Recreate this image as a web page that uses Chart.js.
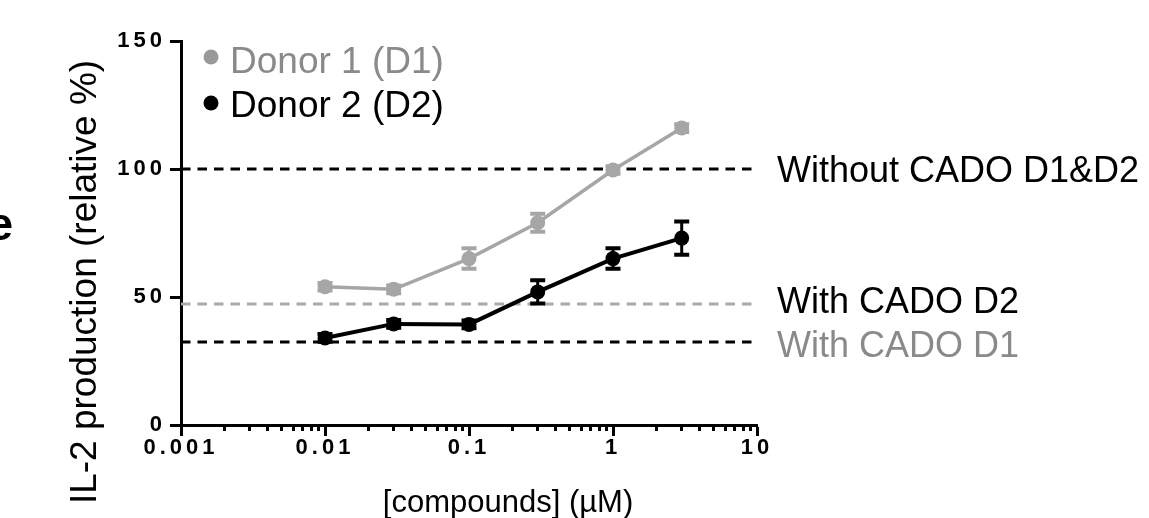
<!DOCTYPE html>
<html>
<head>
<meta charset="utf-8">
<script src="https://cdn.jsdelivr.net/npm/chart.js@4.4.1/dist/chart.umd.min.js"></script>
<style>
html, body { margin: 0; padding: 0; background: #fff; }
#wrap { width: 1149px; height: 518px; }
</style>
</head>
<body>
<div id="wrap"><canvas id="grafico" width="1149" height="518"></canvas></div>
<script>
// concentrações (µM) e respostas relativas (%)
var doses = [0.01, 0.03, 0.1, 0.3, 1, 3];
var donor1 = [54, 53, 65, 79, 99.6, 116];
var donor1Err = [1.5, 1.5, 4, 3.5, 1.5, 1.5];
var donor2 = [34, 39.5, 39.3, 52, 65, 73];
var donor2Err = [1.5, 1.5, 1.5, 4.5, 4, 6.5];

// linhas de referência
var semCado = 100;
var comCadoD2 = 47.3;
var comCadoD1 = 32.4;

var xTicks = [0.001, 0.01, 0.1, 1, 10];
var xTickLabels = ['0.001', '0.01', '0.1', '1', '10'];
var yTicks = [0, 50, 100, 150];

var FONTE = 'Arial, "Liberation Sans", sans-serif';
var CINZA = '#a6a6a6';
var CINZA_TXT = '#8a8a8a';

function pontos(ys) {
    var out = [];
    for (var i = 0; i < doses.length; i++) out.push({ x: doses[i], y: ys[i] });
    return out;
}

function linhaH(v) {
    return [{ x: xTicks[0], y: v }, { x: xTicks[xTicks.length - 1], y: v }];
}

function ehDecada(v) {
    for (var i = 0; i < xTicks.length; i++) {
        if (Math.abs(v / xTicks[i] - 1) < 1e-6) return i;
    }
    return -1;
}

// ticks menores 2..9 de cada década
var todosTicks = [];
for (var d = 0; d < xTicks.length; d++) {
    todosTicks.push(xTicks[d]);
    if (d < xTicks.length - 1) {
        for (var m = 2; m <= 9; m++) todosTicks.push(xTicks[d] * m);
    }
}

var barrasErro = {
    id: 'barrasErro',
    afterDatasetsDraw: function(chart) {
        var ctx = chart.ctx, xs = chart.scales.x, ys = chart.scales.y;
        chart.data.datasets.forEach(function(ds) {
            if (!ds.erro) return;
            ctx.save();
            ctx.strokeStyle = ds.borderColor;
            ds.data.forEach(function(p, i) {
                var e = ds.erro[i];
                var px = xs.getPixelForValue(p.x);
                var y1 = ys.getPixelForValue(p.y + e);
                var y2 = ys.getPixelForValue(p.y - e);
                ctx.lineWidth = 3;
                ctx.beginPath(); ctx.moveTo(px, y1); ctx.lineTo(px, y2); ctx.stroke();
                ctx.lineWidth = 4;
                ctx.beginPath();
                ctx.moveTo(px - 7.5, y1); ctx.lineTo(px + 7.5, y1);
                ctx.moveTo(px - 7.5, y2); ctx.lineTo(px + 7.5, y2);
                ctx.stroke();
            });
            ctx.restore();
        });
    }
};

// espaçamento das letras só para os rótulos dos eixos
var espacamento = {
    id: 'espacamento',
    beforeDraw: function(chart) { chart.ctx.letterSpacing = '4px'; },
    beforeDatasetsDraw: function(chart) { chart.ctx.letterSpacing = '0px'; }
};

var textos = {
    id: 'textos',
    afterDraw: function(chart) {
        var ctx = chart.ctx, ys = chart.scales.y;
        var dsets = chart.data.datasets;
        ctx.save();
        ctx.letterSpacing = '0px';
        ctx.textBaseline = 'alphabetic';
        ctx.textAlign = 'left';

        // legenda
        ctx.font = '37px ' + FONTE;
        var legY = [73, 117];
        var marcaY = [57, 103];
        for (var i = 0; i < 2; i++) {
            ctx.fillStyle = i === 0 ? '#999999' : '#000';
            ctx.beginPath();
            ctx.arc(211, marcaY[i], 7.5, 0, Math.PI * 2);
            ctx.fill();
            ctx.fillStyle = i === 0 ? CINZA_TXT : '#000';
            ctx.fillText(dsets[i].label, 230, legY[i]);
        }

        // rótulos das linhas tracejadas
        ctx.font = '36px ' + FONTE;
        ctx.fillStyle = '#000';
        ctx.fillText('Without CADO D1&D2', 777, ys.getPixelForValue(semCado) + 13);
        ctx.fillText('With CADO D2', 777, ys.getPixelForValue(comCadoD2) + 9);
        ctx.fillStyle = CINZA_TXT;
        ctx.fillText('With CADO D1', 777, ys.getPixelForValue(comCadoD1) + 15);

        // título x
        ctx.fillStyle = '#000';
        ctx.textAlign = 'center';
        ctx.font = '31px ' + FONTE;
        ctx.fillText('[compounds] (µM)', 508, 512);

        // título y
        ctx.font = '37px ' + FONTE;
        ctx.save();
        ctx.translate(96, 282);
        ctx.rotate(-Math.PI / 2);
        ctx.fillText('IL-2 production (relative %)', 0, 0);
        ctx.restore();

        // letra do painel vizinho, cortada
        ctx.textAlign = 'right';
        ctx.font = 'bold 46px ' + FONTE;
        ctx.fillText('e', 13, 240);
        ctx.restore();
    }
};

new Chart(document.getElementById('grafico'), {
    type: 'line',
    data: {
        datasets: [
            {
                label: 'Donor 1 (D1)', data: pontos(donor1), erro: donor1Err,
                borderColor: CINZA, backgroundColor: CINZA,
                borderWidth: 3.5, pointRadius: 7.5, pointHoverRadius: 7.5, pointBorderWidth: 0
            },
            {
                label: 'Donor 2 (D2)', data: pontos(donor2), erro: donor2Err,
                borderColor: '#000', backgroundColor: '#000',
                borderWidth: 4, pointRadius: 7.5, pointHoverRadius: 7.5, pointBorderWidth: 0
            },
            {
                label: 'Without CADO', data: linhaH(semCado),
                borderColor: '#000', borderWidth: 3, borderDash: [9.5, 7], pointRadius: 0
            },
            {
                label: 'With CADO D2', data: linhaH(comCadoD2),
                borderColor: '#aaaaaa', borderWidth: 3, borderDash: [9.5, 7], pointRadius: 0
            },
            {
                label: 'With CADO D1', data: linhaH(comCadoD1),
                borderColor: '#000', borderWidth: 3, borderDash: [9.5, 7], pointRadius: 0
            }
        ]
    },
    options: {
        responsive: false,
        animation: false,
        devicePixelRatio: 1,
        layout: { padding: { top: 41, right: 392, bottom: 0, left: 0 } },
        plugins: { legend: { display: false }, tooltip: { enabled: false } },
        scales: {
            x: {
                type: 'logarithmic',
                min: xTicks[0],
                max: xTicks[xTicks.length - 1],
                afterBuildTicks: function(s) {
                    s.ticks = todosTicks.map(function(v) { return { value: v, major: ehDecada(v) >= 0 }; });
                },
                afterFit: function(s) { s.height = 93; },
                border: { color: '#000', width: 3 },
                grid: {
                    drawOnChartArea: false,
                    drawTicks: true,
                    tickLength: 11,
                    tickWidth: 3,
                    tickColor: '#000',
                    tickBorderDash: function(c) {
                        if (!c.tick) return [];
                        return ehDecada(c.tick.value) >= 0 ? [] : [4, 50];
                    }
                },
                ticks: {
                    autoSkip: false,
                    maxRotation: 0,
                    padding: -1,
                    color: '#000',
                    font: { family: FONTE, size: 22, weight: 'bold' },
                    callback: function(v) {
                        var k = ehDecada(v);
                        return k >= 0 ? xTickLabels[k] : '';
                    }
                }
            },
            y: {
                min: yTicks[0],
                max: yTicks[yTicks.length - 1],
                afterBuildTicks: function(s) {
                    s.ticks = yTicks.map(function(v) { return { value: v }; });
                },
                afterFit: function(s) { s.width = 181; },
                border: { color: '#000', width: 3 },
                grid: {
                    drawOnChartArea: false,
                    drawTicks: true,
                    tickLength: 11,
                    tickWidth: 3,
                    tickColor: '#000'
                },
                ticks: {
                    padding: 4,
                    color: '#000',
                    font: { family: FONTE, size: 22, weight: 'bold' }
                }
            }
        }
    },
    plugins: [espacamento, barrasErro, textos]
});
</script>
</body>
</html>
